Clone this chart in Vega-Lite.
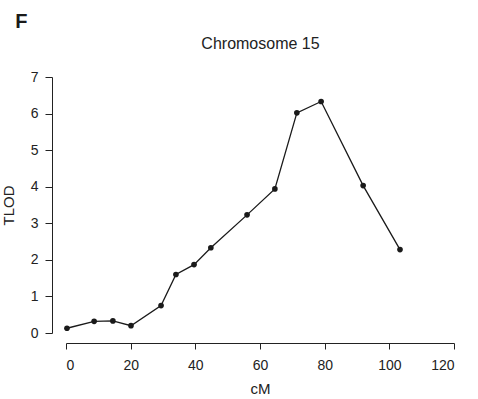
{
  "$schema": "https://vega.github.io/schema/vega-lite/v6.json",
  "autosize": {"type": "none"},
  "padding": {"left": 66, "top": 77, "right": 24, "bottom": 66},
  "width": 388,
  "height": 256,
  "background": "white",
  "title": {"text": "F", "anchor": "start", "frame": "bounds", "font": "Liberation Sans", "fontSize": 20, "fontWeight": "bold", "color": "#1a1a1a", "dx": 14, "offset": 3},
  "config": {
    "view": {"stroke": null},
    "axis": {"domainColor": "#222", "tickColor": "#222", "labelColor": "#222", "titleColor": "#222", "labelFont": "Liberation Sans", "titleFont": "Liberation Sans", "labelFontSize": 14, "titleFontSize": 15, "titleFontWeight": "normal", "grid": false, "domainWidth": 1, "tickWidth": 1}
  },
  "data": {"values": [
    {"cM": 0.3, "TLOD": 0.13},
    {"cM": 8.7, "TLOD": 0.32},
    {"cM": 14.5, "TLOD": 0.33},
    {"cM": 20.1, "TLOD": 0.2},
    {"cM": 29.4, "TLOD": 0.75},
    {"cM": 34.0, "TLOD": 1.6},
    {"cM": 39.6, "TLOD": 1.87},
    {"cM": 44.8, "TLOD": 2.33},
    {"cM": 56.0, "TLOD": 3.23},
    {"cM": 64.6, "TLOD": 3.94},
    {"cM": 71.4, "TLOD": 6.02},
    {"cM": 78.9, "TLOD": 6.33},
    {"cM": 91.9, "TLOD": 4.03},
    {"cM": 103.3, "TLOD": 2.28}
  ]},
  "encoding": {
    "y": {"field": "TLOD", "type": "quantitative", "scale": {"domain": [0, 7], "nice": false}, "axis": {"values": [0, 1, 2, 3, 4, 5, 6, 7], "offset": 14, "tickSize": 7, "labelPadding": 7, "titlePadding": 14, "title": "TLOD"}}
  },
  "layer": [
    {
      "mark": {"type": "line", "color": "#1a1a1a", "strokeWidth": 1.3},
      "encoding": {
        "x": {"field": "cM", "type": "quantitative", "scale": {"domain": [0, 120], "nice": false, "zero": false}, "axis": {"values": [0, 20, 40, 60, 80, 100, 120], "offset": 10, "tickSize": 6, "labelPadding": 9, "titlePadding": 9, "title": "cM"}}
      }
    },
    {
      "mark": {"type": "point", "filled": true, "color": "#1a1a1a", "opacity": 1, "size": 32},
      "encoding": {
        "x": {"field": "cM", "type": "quantitative", "axis": {"orient": "top", "domain": false, "ticks": false, "labels": false, "titlePadding": 26, "title": "Chromosome 15", "titleFontSize": 16}}
      }
    }
  ],
  "resolve": {"axis": {"x": "independent"}}
}
